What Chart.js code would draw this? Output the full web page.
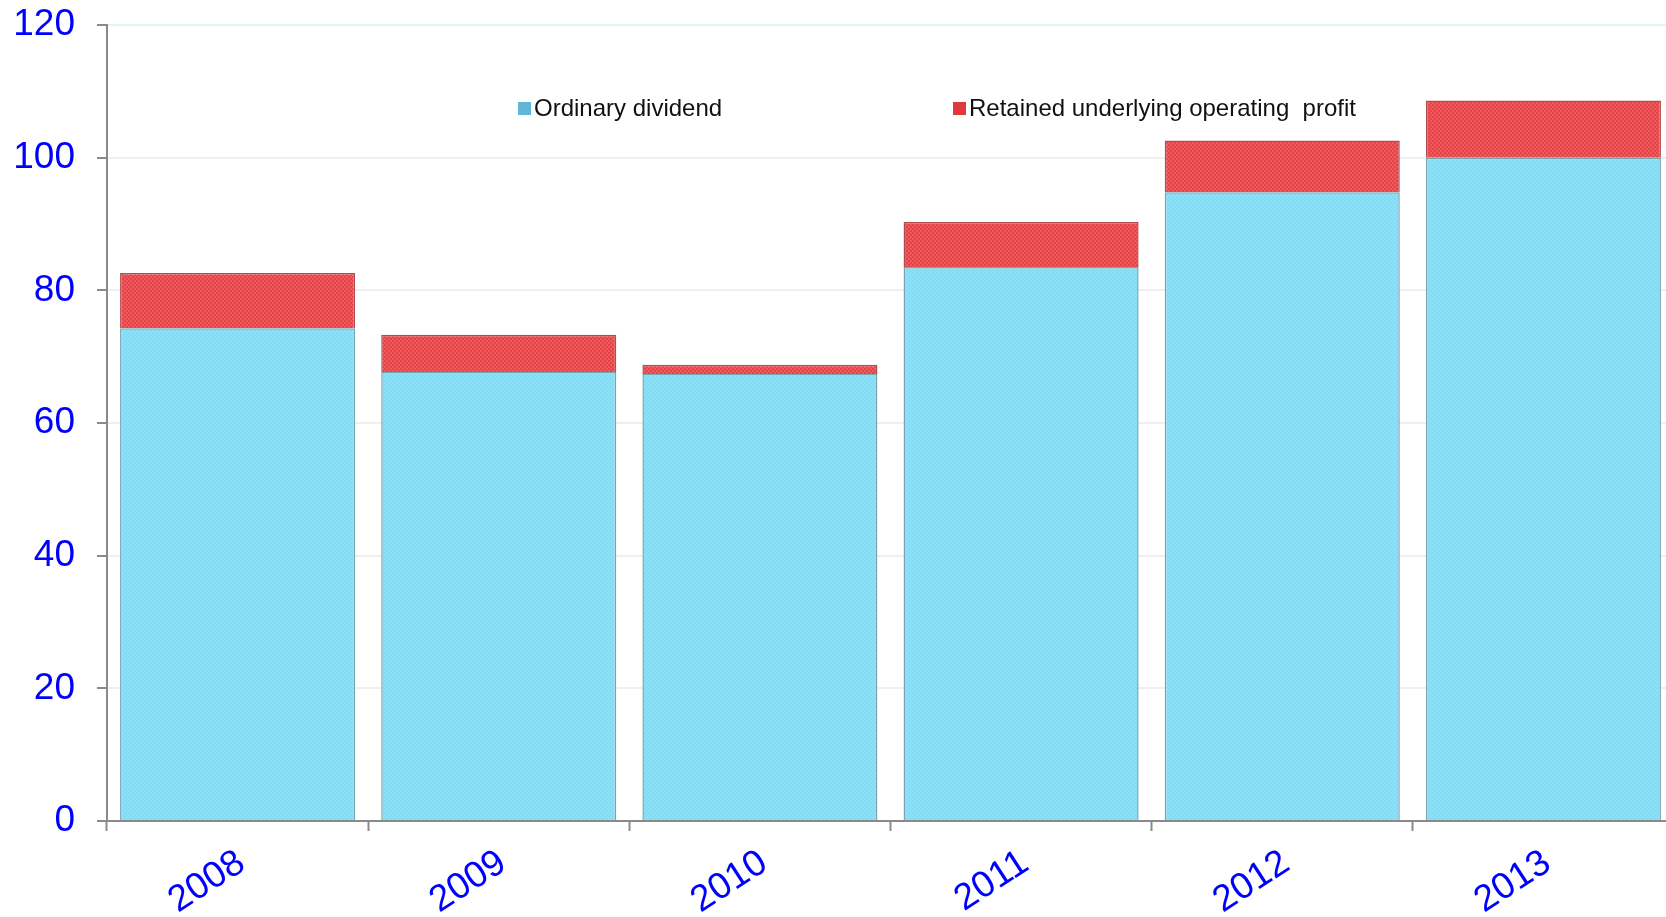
<!DOCTYPE html>
<html>
<head>
<meta charset="utf-8">
<script src="https://cdn.jsdelivr.net/npm/chart.js@4.4.1/dist/chart.umd.min.js"></script>
<style>
  body { margin: 0; overflow: hidden; background: #fff; }
  #wrap { position: relative; width: 1674px; height: 917px; }
  #legend { position: absolute; top: 94px; left: 0; font-family: 'Liberation Sans', Arial, sans-serif; font-size: 24px; color: #111; }
  .item { position: absolute; white-space: nowrap; display: flex; align-items: center; }
  .box { width: 13px; height: 13px; margin-right: 3px; }
</style>
</head>
<body>
<div id="wrap">
  <canvas id="chart" width="1674" height="917"></canvas>
  <div id="legend"></div>
</div>
<script>
const years = ['2008', '2009', '2010', '2011', '2012', '2013'];
const ordinary_dividend = [74.3, 67.7, 67.4, 83.5, 94.8, 100];
const retained_profit = [8.3, 5.6, 1.4, 6.8, 7.8, 8.6];
const y_ticks = [0, 20, 40, 60, 80, 100, 120];

const blue = "#8be2f8";
const red = "#f2585c";

// small dotted fill like the original's texture
function dots(base, dot) {
    const c = document.createElement('canvas');
    c.width = 4; c.height = 4;
    const g = c.getContext('2d');
    g.fillStyle = base;
    g.fillRect(0, 0, 4, 4);
    g.fillStyle = dot;
    g.fillRect(0, 0, 2, 2);
    g.fillRect(2, 2, 2, 2);
    return g.createPattern(c, 'repeat');
}

Chart.defaults.font.family = "'Liberation Sans', Arial, sans-serif";

const data = {
    labels: years,
    datasets: [{
        label: 'Ordinary dividend',
        data: ordinary_dividend,
        backgroundColor: dots(blue, "#84dbf2"),
        borderColor: "#7aa3b0",
        borderWidth: 1.5,
        barPercentage: 0.9,
        categoryPercentage: 1,
        legendColor: "#5fb6d6"
    }, {
        label: 'Retained underlying operating  profit',
        data: retained_profit,
        backgroundColor: dots(red, "#e0454a"),
        borderColor: "#b24b4b",
        borderWidth: 1.5,
        barPercentage: 0.9,
        categoryPercentage: 1,
        legendColor: "#e0383c"
    }]
};

const config = {
    type: 'bar',
    data: data,
    options: {
        responsive: false,
        animation: false,
        layout: { padding: { top: 25, right: 0, left: 0, bottom: 0 } },
        plugins: {
            legend: { display: false },
            tooltip: { enabled: false }
        },
        scales: {
            x: {
                stacked: true,
                afterFit: (s) => { s.height = 96; s.paddingLeft = 0; s.paddingRight = 0; },
                border: { color: '#8a8a8a', width: 2 },
                grid: { drawOnChartArea: false, tickLength: 10, tickColor: '#8a8a8a', tickWidth: 2 },
                ticks: {
                    color: '#0000ff',
                    font: { size: 37 },
                    minRotation: 33,
                    maxRotation: 33,
                    padding: 10,
                    labelOffset: 4
                }
            },
            y: {
                stacked: true,
                min: 0,
                max: 120,
                afterFit: (s) => { s.width = 107; s.paddingTop = 0; s.paddingBottom = 0; },
                afterBuildTicks: (s) => { s.ticks = y_ticks.map(v => ({ value: v })); },
                border: { color: '#8a8a8a', width: 2 },
                grid: {
                    color: (c) => c.tick && c.tick.value === 120 ? '#e2f4f4' : '#efefef',
                    lineWidth: 2,
                    tickLength: 10,
                    tickColor: '#8a8a8a',
                    tickWidth: 2
                },
                ticks: {
                    color: '#0000ff',
                    font: { size: 37 },
                    padding: 22
                }
            }
        }
    }
};

const ctx = document.getElementById('chart');
const chart = new Chart(ctx, config);

// legend sits inside the plot area in the original
const legend = document.getElementById('legend');
const legend_x = [518, 953];
data.datasets.forEach((d, i) => {
    const item = document.createElement('div');
    item.className = 'item';
    item.style.left = legend_x[i] + 'px';
    item.innerHTML = '<span class="box" style="background:' + d.legendColor + '"></span><span>' + d.label.replace(/  /g, ' &nbsp;') + '</span>';
    legend.appendChild(item);
});
</script>
</body>
</html>
